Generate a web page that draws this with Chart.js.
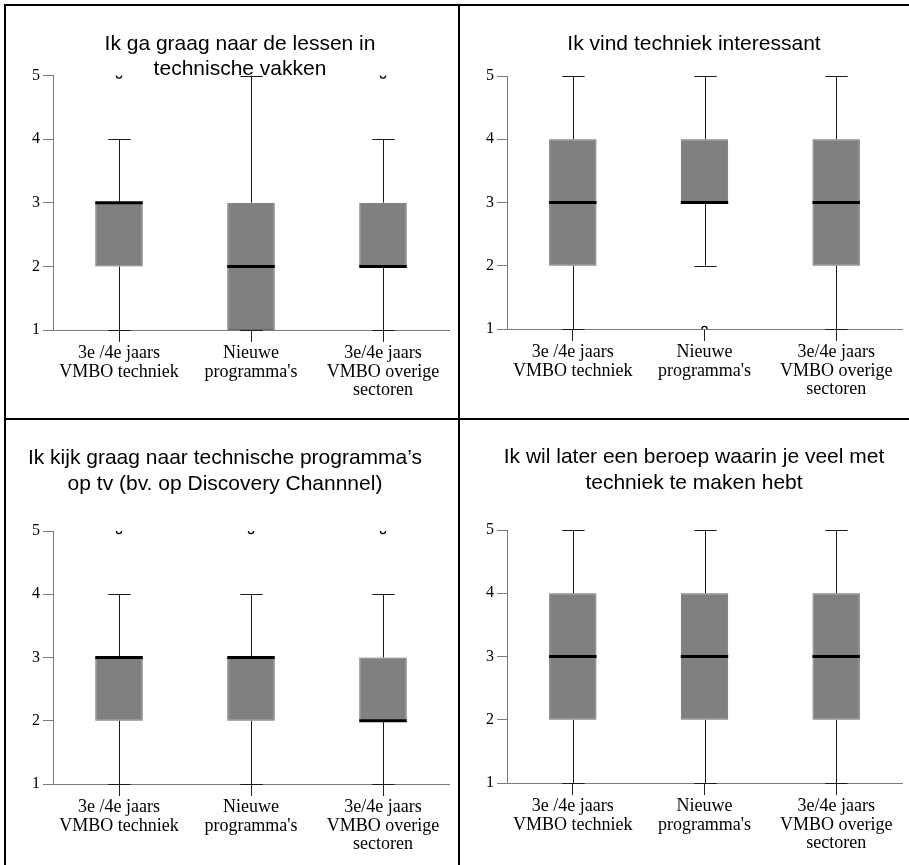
<!DOCTYPE html>
<html>
<head>
<meta charset="utf-8">
<script src="https://cdn.jsdelivr.net/npm/chart.js@4.4.1/dist/chart.umd.min.js"></script>
<style>
  html, body { margin: 0; padding: 0; background: #fff; }
  #wrap { position: relative; width: 909px; height: 865px; overflow: hidden; background: #fff; }
  canvas { position: absolute; }
  .rule { position: absolute; background: #000; }
</style>
</head>
<body>
<div id="wrap">
  <canvas id="c1" width="452" height="412" style="left:6px;top:6px"></canvas>
  <canvas id="c2" width="449" height="412" style="left:460px;top:6px"></canvas>
  <canvas id="c3" width="452" height="445" style="left:6px;top:420px"></canvas>
  <canvas id="c4" width="449" height="445" style="left:460px;top:420px"></canvas>
  <div class="rule" style="left:4px;top:4px;width:905px;height:2px"></div>
  <div class="rule" style="left:4px;top:4px;width:2px;height:861px"></div>
  <div class="rule" style="left:458px;top:4px;width:2px;height:861px"></div>
  <div class="rule" style="left:4px;top:418px;width:905px;height:2px"></div>
</div>
<script>
// Groups on the horizontal axis (multi-line labels)
const categories = [
  ["3e /4e jaars", "VMBO techniek"],
  ["Nieuwe", "programma's"],
  ["3e/4e jaars", "VMBO overige", "sectoren"]
];
const yTicks = [1, 2, 3, 4, 5];

// "Ik ga graag naar de lessen in technische vakken"
const lessenTitle = ["Ik ga graag naar de lessen in", "technische vakken"];
const lessenLow = [1, 1, 1];
const lessenQ1 = [2, 1, 2];
const lessenMedian = [3, 2, 2];
const lessenQ3 = [3, 3, 3];
const lessenHigh = [4, 5, 4];
const lessenOutliers = [5, null, 5];

// "Ik vind techniek interessant"
const interesseTitle = ["Ik vind techniek interessant"];
const interesseLow = [1, 2, 1];
const interesseQ1 = [2, 3, 2];
const interesseMedian = [3, 3, 3];
const interesseQ3 = [4, 4, 4];
const interesseHigh = [5, 5, 5];
const interesseOutliers = [null, 1, null];

// "Ik kijk graag naar technische programma's op tv"
const tvTitle = ["Ik kijk graag naar technische programma\u2019s", "op tv (bv. op Discovery Channnel)"];
const tvLow = [1, 1, 1];
const tvQ1 = [2, 2, 2];
const tvMedian = [3, 3, 2];
const tvQ3 = [3, 3, 3];
const tvHigh = [4, 4, 4];
const tvOutliers = [5, 5, 5];

// "Ik wil later een beroep waarin je veel met techniek te maken hebt"
const beroepTitle = ["Ik wil later een beroep waarin je veel met", "techniek te maken hebt"];
const beroepLow = [1, 1, 1];
const beroepQ1 = [2, 2, 2];
const beroepMedian = [3, 3, 3];
const beroepQ3 = [4, 4, 4];
const beroepHigh = [5, 5, 5];
const beroepOutliers = [null, null, null];

// Whiskers, caps and medians drawn from the box statistics through the chart scales
const boxDecor = {
  id: 'boxDecor',
  beforeDatasetsDraw(chart, args, opts) {
    const { ctx, scales: { x, y } } = chart;
    const meta = chart.getDatasetMeta(0);
    ctx.save();
    ctx.strokeStyle = '#1a1a1a';
    ctx.lineWidth = 1;
    opts.low.forEach((lo, i) => {
      const bar = meta.data[i];
      const cx = Math.round(x.getPixelForValue(i)) + 0.5;
      const capHalf = bar.width * 0.235;
      const segs = [[lo, opts.q1[i]], [opts.q3[i], opts.high[i]]];
      segs.forEach(([a, b]) => {
        if (a === b) return;
        ctx.beginPath();
        ctx.moveTo(cx, y.getPixelForValue(a));
        ctx.lineTo(cx, y.getPixelForValue(b));
        ctx.stroke();
      });
      [lo, opts.high[i]].forEach(v => {
        const py = Math.round(y.getPixelForValue(v)) + 0.5;
        ctx.beginPath();
        ctx.moveTo(cx - capHalf, py);
        ctx.lineTo(cx + capHalf, py);
        ctx.stroke();
      });
    });
    ctx.restore();
  },
  afterDatasetsDraw(chart, args, opts) {
    const { ctx, scales: { y } } = chart;
    const meta = chart.getDatasetMeta(0);
    ctx.save();
    ctx.strokeStyle = '#000';
    ctx.lineWidth = 3;
    opts.median.forEach((m, i) => {
      const bar = meta.data[i];
      const py = y.getPixelForValue(m);
      ctx.beginPath();
      ctx.moveTo(bar.x - bar.width / 2, py);
      ctx.lineTo(bar.x + bar.width / 2, py);
      ctx.stroke();
    });
    ctx.restore();
  }
};

// Panel heading, centred on a given x
const panelTitle = {
  id: 'panelTitle',
  afterDraw(chart, args, opts) {
    const { ctx } = chart;
    ctx.save();
    ctx.fillStyle = '#000';
    ctx.font = '21px "Liberation Sans", Arial, sans-serif';
    ctx.textAlign = 'center';
    ctx.textBaseline = 'alphabetic';
    opts.lines.forEach((t, k) => ctx.fillText(t, opts.x, opts.y + k * opts.lineHeight));
    ctx.restore();
  }
};

function makePanel(id, title, low, q1, median, q3, high, outliers, geo) {
  const canvas = document.getElementById(id);
  const W = canvas.width, H = canvas.height;
  return new Chart(canvas, {
    type: 'bar',
    data: {
      labels: categories,
      datasets: [
        {
          data: q1.map((v, i) => [v, q3[i]]),
          backgroundColor: '#808080',
          borderColor: '#6a6a6a',
          borderWidth: 1,
          borderSkipped: false,
          barPercentage: 0.36,
          categoryPercentage: 1
        },
        {
          type: 'line',
          data: outliers,
          showLine: false,
          pointRadius: 2.6,
          pointBackgroundColor: '#fff',
          pointBorderColor: '#000',
          pointBorderWidth: 1.3,
          clip: 0
        }
      ]
    },
    options: {
      responsive: false,
      animation: false,
      devicePixelRatio: 1,
      events: [],
      layout: { padding: { top: geo.top, left: 0, right: W - geo.right, bottom: 0 } },
      scales: {
        x: {
          offset: true,
          grid: { display: true, drawOnChartArea: false, offset: false, tickLength: 12, tickColor: '#222', tickWidth: 1 },
          border: { display: true, color: '#7a7a7a', width: 1 },
          ticks: {
            autoSkip: false, maxRotation: 0, minRotation: 0, padding: 2, color: '#000',
            font: { family: '"Liberation Serif", "Times New Roman", serif', size: 18, lineHeight: 1.03 }
          },
          afterFit(scale) { scale.height = H - geo.bottom; }
        },
        y: {
          min: 1, max: 5,
          afterBuildTicks(scale) { scale.ticks = yTicks.map(v => ({ value: v })); },
          grid: { display: true, drawOnChartArea: false, tickLength: 10, tickColor: '#7a7a7a' },
          border: { display: true, color: '#7a7a7a', width: 1 },
          ticks: {
            padding: 3, color: '#000',
            font: { family: '"Liberation Serif", "Times New Roman", serif', size: 16 }
          },
          afterFit(scale) { scale.width = geo.left; }
        }
      },
      plugins: {
        legend: { display: false },
        tooltip: { enabled: false },
        title: { display: false },
        boxDecor: { low, q1, median, q3, high },
        panelTitle: { lines: title, x: geo.titleX, y: geo.titleY, lineHeight: geo.titleLH }
      }
    },
    plugins: [boxDecor, panelTitle]
  });
}

makePanel('c1', lessenTitle, lessenLow, lessenQ1, lessenMedian, lessenQ3, lessenHigh, lessenOutliers,
  { left: 47, right: 443, top: 69.5, bottom: 324, titleX: 234, titleY: 44, titleLH: 25 });
makePanel('c2', interesseTitle, interesseLow, interesseQ1, interesseMedian, interesseQ3, interesseHigh, interesseOutliers,
  { left: 47, right: 442, top: 70, bottom: 323, titleX: 234, titleY: 44, titleLH: 25 });
makePanel('c3', tvTitle, tvLow, tvQ1, tvMedian, tvQ3, tvHigh, tvOutliers,
  { left: 47, right: 443, top: 111, bottom: 364, titleX: 219, titleY: 43.5, titleLH: 26 });
makePanel('c4', beroepTitle, beroepLow, beroepQ1, beroepMedian, beroepQ3, beroepHigh, beroepOutliers,
  { left: 47, right: 442, top: 110, bottom: 363, titleX: 234, titleY: 43, titleLH: 25.5 });
</script>
</body>
</html>
